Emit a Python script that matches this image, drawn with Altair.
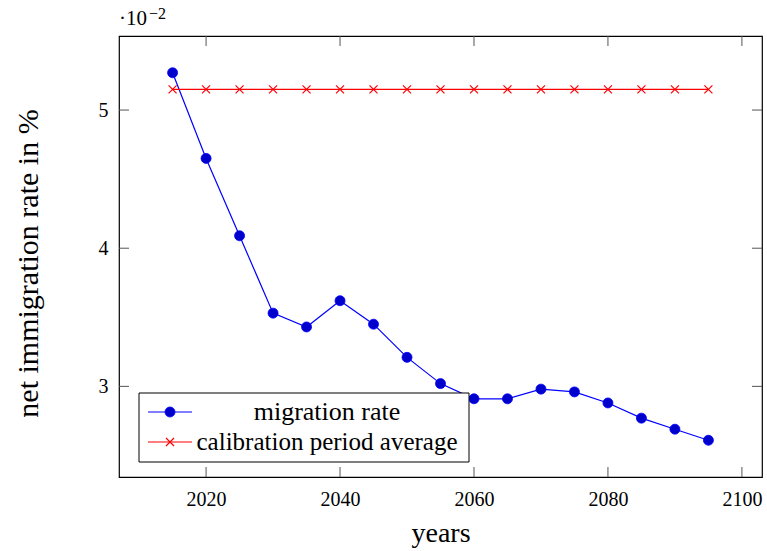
import altair as alt
import pandas as pd

# Net immigration rate by projection year (values in percent)
years = [2015, 2020, 2025, 2030, 2035, 2040, 2045, 2050, 2055,
         2060, 2065, 2070, 2075, 2080, 2085, 2090, 2095]
migration_rate = [0.0527, 0.0465, 0.0409, 0.0353, 0.0343, 0.0362, 0.0345, 0.0321, 0.0302,
                  0.0291, 0.0291, 0.0298, 0.0296, 0.0288, 0.0277, 0.0269, 0.0261]
calibration_avg = [0.0515] * len(years)

x_ticks = [2020, 2040, 2060, 2080, 2100]
y_ticks = [0.03, 0.04, 0.05]
x_domain = [2007, 2103]
y_domain = [0.02344, 0.05536]

legend_labels = ["migration rate", "calibration period average"]

W, H = 643, 441
SERIF = "Liberation Serif"
BLUE, BLUE_FILL, RED = "#0000FF", "#0000CC", "#FF0000"
TICK_LEN = 10
X_MARK = "M-1,-1L1,1M-1,1L1,-1"

df = pd.DataFrame({"year": years, "rate": migration_rate, "avg": calibration_avg})
xt = pd.DataFrame({"year": x_ticks})
yt = pd.DataFrame({"v": y_ticks})
one = pd.DataFrame({"k": [0]})

xs = alt.Scale(domain=x_domain, nice=False, zero=False)
ys = alt.Scale(domain=y_domain, nice=False, zero=False)

x_axis = alt.Axis(values=x_ticks, format="d", ticks=False, domain=False, grid=False,
                  labelFont=SERIF, labelFontSize=20, labelColor="black", labelPadding=12,
                  labelFlush=False, labelOverlap=False,
                  title="years", titleFont=SERIF, titleFontSize=28, titleFontWeight="normal",
                  titleColor="black", titleY=64, titleBaseline="alphabetic")
y_axis = alt.Axis(values=y_ticks, labelExpr="format(datum.value * 100, 'd')", ticks=False,
                  domain=False, grid=False, labelFont=SERIF, labelFontSize=20,
                  labelColor="black", labelPadding=11, labelFlush=False, labelOverlap=False,
                  title="net immigration rate in %", titleFont=SERIF, titleFontSize=30,
                  titleFontWeight="normal", titleColor="black",
                  titleX=-82, titleY=227, titleBaseline="alphabetic")

base = alt.Chart(df)

rate_line = base.mark_line(color=BLUE, strokeWidth=1.2).encode(
    x=alt.X("year:Q", scale=xs, axis=x_axis),
    y=alt.Y("rate:Q", scale=ys, axis=y_axis),
)
rate_pts = base.mark_point(shape="circle", filled=True, size=100, fill=BLUE_FILL,
                           stroke=BLUE, strokeWidth=0.8, opacity=1).encode(
    x=alt.X("year:Q", scale=xs), y=alt.Y("rate:Q", scale=ys))

avg_line = base.mark_line(color=RED, strokeWidth=1.2).encode(
    x=alt.X("year:Q", scale=xs), y=alt.Y("avg:Q", scale=ys))
avg_pts = base.mark_point(shape=X_MARK, filled=False, size=64, stroke=RED,
                          strokeWidth=1.2, opacity=1).encode(
    x=alt.X("year:Q", scale=xs), y=alt.Y("avg:Q", scale=ys))

# inward tick marks on all four sides
tick_style = dict(color="#555555", strokeWidth=1)
bottom_ticks = alt.Chart(xt).mark_rule(**tick_style).encode(
    x=alt.X("year:Q", scale=xs), y=alt.value(H), y2=alt.value(H - TICK_LEN))
top_ticks = alt.Chart(xt).mark_rule(**tick_style).encode(
    x=alt.X("year:Q", scale=xs), y=alt.value(0), y2=alt.value(TICK_LEN))
left_ticks = alt.Chart(yt).mark_rule(**tick_style).encode(
    y=alt.Y("v:Q", scale=ys), x=alt.value(0), x2=alt.value(TICK_LEN))
right_ticks = alt.Chart(yt).mark_rule(**tick_style).encode(
    y=alt.Y("v:Q", scale=ys), x=alt.value(W), x2=alt.value(W - TICK_LEN))

# legend box in the lower left corner
lg = alt.Chart(one)
lg_box = lg.mark_rect(fill="white", stroke="black", strokeWidth=1).encode(
    x=alt.value(20), x2=alt.value(350), y=alt.value(357), y2=alt.value(426))
lg_rule1 = lg.mark_rule(color=BLUE, strokeWidth=1.2).encode(
    x=alt.value(29), x2=alt.value(73), y=alt.value(376))
lg_dot = lg.mark_point(shape="circle", filled=True, size=100, fill=BLUE_FILL, stroke=BLUE,
                       strokeWidth=0.8, opacity=1).encode(x=alt.value(51), y=alt.value(376))
lg_rule2 = lg.mark_rule(color=RED, strokeWidth=1.2).encode(
    x=alt.value(29), x2=alt.value(73), y=alt.value(406))
lg_cross = lg.mark_point(shape=X_MARK, filled=False, size=64, stroke=RED, strokeWidth=1.2,
                         opacity=1).encode(x=alt.value(51), y=alt.value(406))
lg_text1 = lg.mark_text(font=SERIF, fontSize=26, align="center", baseline="middle",
                        color="black").encode(x=alt.value(208), y=alt.value(376),
                                              text=alt.value(legend_labels[0]))
lg_text2 = lg.mark_text(font=SERIF, fontSize=25, align="center", baseline="middle",
                        color="black").encode(x=alt.value(208), y=alt.value(406),
                                              text=alt.value(legend_labels[1]))

# axis multiplier above the plot
mult = lg.mark_text(font=SERIF, fontSize=21, align="left", baseline="alphabetic",
                    color="black").encode(x=alt.value(0), y=alt.value(-11),
                                          text=alt.value("·10"))
mult_exp = lg.mark_text(font=SERIF, fontSize=16, align="left", baseline="alphabetic",
                        color="black").encode(x=alt.value(30), y=alt.value(-17),
                                              text=alt.value("−2"))

chart = alt.layer(
    rate_line, rate_pts, avg_line, avg_pts,
    bottom_ticks, top_ticks, left_ticks, right_ticks,
    lg_box, lg_rule1, lg_dot, lg_rule2, lg_cross, lg_text1, lg_text2,
    mult, mult_exp,
).properties(
    width=W, height=H,
    autosize=alt.AutoSizeParams(type="none"),
    padding={"left": 119, "top": 36, "right": 5, "bottom": 74},
    background="white",
).configure_view(
    stroke="black", strokeWidth=1.2,
)

chart.save("out.html", embed_options={"renderer": "svg", "actions": False})
